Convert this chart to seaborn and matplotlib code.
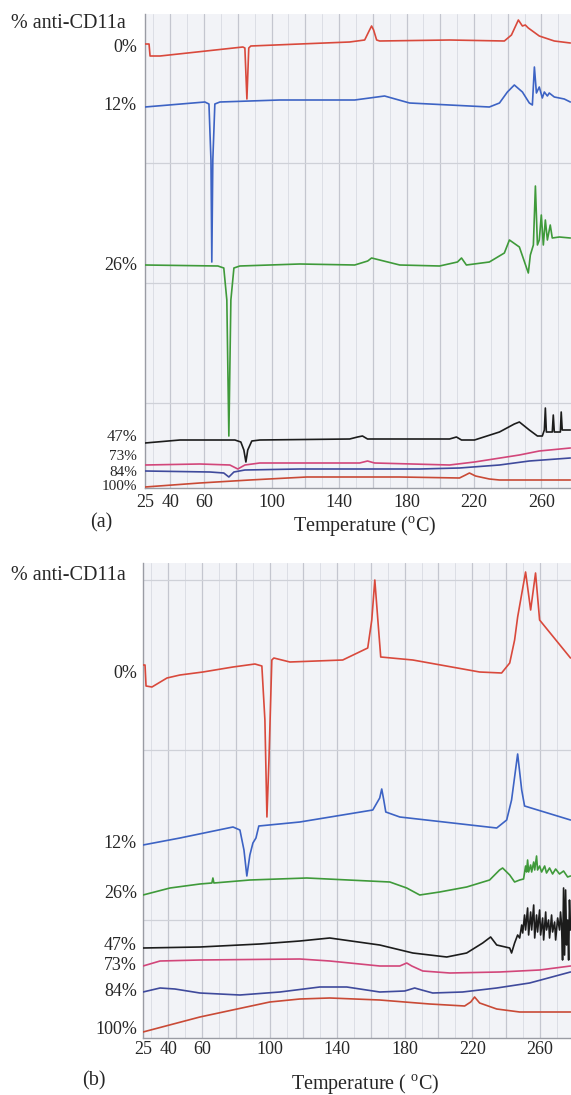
import numpy as np
import pandas as pd
import matplotlib
matplotlib.use("Agg")
import matplotlib.pyplot as plt
import matplotlib.transforms as mtransforms
import seaborn as sns

# ---------------- DATA (temperature in degC, heat-flow signal in arbitrary offset units) ----------------
# Panel (a)
a0_T = [25, 27.4, 28, 33.9, 83, 84.2, 85.4, 86.5, 87.7, 116.7, 146.3, 155.2, 158.1, 159.3, 160.5, 162.3, 164.1,
        205.5, 238, 242.2, 246.3, 248.7, 250.4, 252.2, 258.7, 267.6, 277.1]
a0_v = [444, 444, 432, 432, 441, 440, 389, 440, 442, 444, 446, 448, 458, 462, 458, 448, 447,
        448, 447, 453, 468, 462, 463, 460, 452, 447, 445]

a12_T = [25, 60.5, 62.9, 64.1, 64.6, 65.2, 66.4, 69.4, 104.9, 149.3, 167.0, 181.8, 217.3, 229.1, 235.1, 239.8,
         243.9, 248.7, 252.8, 254.6, 255.8, 257.0, 258.7, 260.5, 261.7, 263.5, 264.6, 267.6, 270.6, 273.5, 277.1]
a12_v = [381, 386, 384, 328, 226, 328, 384, 386, 388, 388, 392, 385, 382, 381, 385, 396,
         403, 396, 385, 383, 421, 395, 401, 390, 396, 392, 395, 391, 390, 389, 386]

a26_T = [25, 68.2, 71.7, 73.5, 74.7, 75.9, 77.7, 81.2, 116.7, 149.3, 157.0, 159.3, 164.1, 176.0, 199.6, 210.2,
         212.6, 215.5, 229.1, 238.0, 241.0, 246.9, 252.2, 253.4, 255.2, 256.4, 257.6, 258.7, 259.9, 261.1,
         262.3, 263.5, 265.2, 266.4, 270.6, 277.1]
a26_v = [223, 222, 220, 188, 52, 188, 220, 222, 224, 223, 227, 230, 228, 223, 222, 226,
         230, 223, 226, 235, 248, 241, 215, 233, 243, 302, 243, 248, 273, 243,
         268, 248, 263, 250, 251, 250]

a47_T = [25, 45.7, 78.3, 81.8, 83.6, 84.8, 85.9, 88.3, 93.0, 146.3, 151.0, 153.9, 156.9, 205.5, 209.6, 212.6,
         220.3, 235.1, 243.9, 246.9, 252.8, 257.6, 260.5, 261.7, 262.3, 262.9, 266.4, 267.0, 267.6, 271.2,
         271.7, 272.3, 277.1]
a47_v = [45, 48, 48, 46, 38, 26, 38, 47, 48, 49, 51, 52, 49, 49, 51, 48,
         48, 56, 64, 66, 58, 52, 52, 58, 80, 56, 56, 73, 56, 56,
         76, 58, 58]

a73_T = [25, 57.5, 75.3, 80.0, 84.2, 93.0, 152.2, 156.9, 161.1, 205.5, 220.3, 246.9, 258.7, 277.1]
a73_v = [23, 24, 23, 19, 23, 25, 25, 27, 25, 23, 26, 33, 37, 40]

a84_T = [25, 63.5, 71.7, 74.7, 77.7, 84.2, 116.7, 187.7, 211.4, 235.1, 252.8, 277.1]
a84_v = [17, 16, 15, 11, 16, 18, 19, 19, 20, 23, 27, 30]

a100_T = [25, 57.5, 87.1, 120.9, 175.9, 211.4, 215.0, 217.3, 220.9, 229.1, 235.1, 277.1]
a100_v = [1, 5, 8, 11, 11, 10, 13, 15, 12, 9, 8, 8]

# Panel (b)
b0_T = [25, 26.2, 26.8, 30.3, 39.2, 46.9, 60.5, 78.3, 91.3, 95.4, 97.2, 98.4, 99.6, 101.3, 102.5, 112.0,
        143.3, 158.1, 160.5, 162.3, 164.1, 165.8, 184.8, 224.4, 237.4, 242.2, 245.1, 246.9, 251.6, 254.6,
        257.5, 259.9, 278.2]
b0_v = [373, 373, 352, 351, 360, 363, 366, 371, 374, 372, 318, 221, 278, 378, 380, 376,
        378, 390, 418, 458, 418, 381, 378, 366, 365, 375, 398, 421, 466, 428,
        465, 418, 380]

b12_T = [25, 46.9, 78.3, 82.4, 84.8, 86.5, 88.3, 90.1, 91.9, 93.6, 117.9, 161.1, 165.2, 166.4, 167.6, 168.8,
         177.1, 234.5, 240.4, 243.3, 246.9, 249.3, 251.0, 278.2]
b12_v = [193, 200, 211, 208, 188, 162, 183, 195, 200, 212, 216, 228, 240, 249, 238, 226,
         221, 210, 218, 238, 284, 248, 232, 218]

b26_T = [25, 41.0, 58.7, 65.8, 66.4, 67.0, 88.3, 122.0, 171.2, 181.2, 188.9, 200.7, 216.7, 230.3, 236.2, 238.0,
         242.2, 245.1, 248.1, 250.4, 251.6, 252.2, 252.8, 253.4, 254.6, 255.2, 256.4, 257.0, 258.1, 258.7,
         259.9, 261.1, 262.9, 264.0, 265.8, 267.6, 269.4, 271.7, 274.1, 276.5, 278.2]
b26_v = [143, 150, 154, 155, 160, 155, 158, 160, 156, 150, 143, 146, 151, 158, 168, 170,
         163, 156, 158, 159, 172, 166, 178, 166, 173, 166, 176, 168, 182, 168,
         172, 166, 172, 165, 170, 164, 169, 164, 167, 161, 162]

b47_T = [25, 58.7, 94.2, 117.9, 135.6, 165.2, 184.8, 204.9, 216.7, 226.2, 230.9, 234.5, 242.2, 243.3, 245.1,
         246.9, 248.1, 249.3, 249.9, 251.0, 251.6, 252.8, 253.4, 254.6, 255.2, 256.4, 257.0, 258.1, 258.7,
         259.9, 260.5, 261.7, 262.3, 263.5, 264.0, 265.2, 265.8, 267.0, 267.6, 268.8, 269.4, 270.6, 271.7,
         272.3, 272.9, 273.5, 274.1, 274.7, 275.3, 275.9, 276.5, 277.1, 277.6, 278.2]
b47_v = [90, 91, 94, 97, 100, 93, 85, 81, 85, 95, 101, 93, 90, 85, 95,
         103, 100, 113, 105, 123, 108, 130, 103, 126, 108, 133, 100, 123, 106,
         128, 103, 120, 98, 126, 108, 118, 100, 123, 106, 116, 98, 120, 108,
         126, 113, 78, 150, 83, 148, 93, 118, 78, 138, 108]

b73_T = [25, 35.1, 58.7, 117.9, 135.6, 165.2, 177.1, 181.2, 184.2, 190.7, 206.7, 236.2, 259.9, 278.2]
b73_v = [72, 77, 78, 79, 77, 72, 72, 75, 72, 67, 65, 66, 68, 72]

b84_T = [25, 35.1, 43.9, 58.7, 82.4, 106.1, 129.7, 145.7, 165.2, 180.0, 185.9, 190.1, 196.6, 214.3, 234.5,
         254.0, 278.2]
b84_v = [46, 50, 49, 45, 43, 46, 51, 51, 46, 47, 50, 48, 45, 46, 50, 55, 66]

b100_T = [25, 58.7, 100.1, 117.9, 135.6, 165.2, 194.8, 215.5, 219.1, 221.4, 224.4, 234.5, 248.1, 278.2]
b100_v = [6, 21, 36, 39, 40, 38, 34, 32, 36, 41, 35, 29, 26, 26]

series_names = ["0%", "12%", "26%", "47%", "73%", "84%", "100%"]
panel_a = [(a0_T, a0_v), (a12_T, a12_v), (a26_T, a26_v), (a47_T, a47_v), (a73_T, a73_v), (a84_T, a84_v), (a100_T, a100_v)]
panel_b = [(b0_T, b0_v), (b12_T, b12_v), (b26_T, b26_v), (b47_T, b47_v), (b73_T, b73_v), (b84_T, b84_v), (b100_T, b100_v)]
label_y_a = [441, 382, 223, 51, 31, 16, 1]
label_y_b = [365, 195, 144, 93, 73, 46, 9]
label_fs_a = [13, 13, 13, 12, 11, 11, 11]
label_fs_b = [13, 13, 13, 13, 13, 13, 13]
tick_vals = [25, 40, 60, 100, 140, 180, 220, 260]
hgrid_a = [85, 205, 325]
hgrid_b = [118, 288, 458]

colors = ["#d9493c", "#3d63c4", "#3f9a3a", "#1c1c1c", "#d2467a", "#3f4a9c", "#c94a36"]

# ---------------- STYLE ----------------
sns.set_theme(style="white")
plt.rcParams["font.family"] = ["Liberation Serif", "DejaVu Serif"]
plt.rcParams["mathtext.fontset"] = "custom"
plt.rcParams["mathtext.rm"] = "Liberation Serif"

W, H = 571, 1095
fig = plt.figure(figsize=(W / 100, H / 100), dpi=100)
axA = fig.add_axes([145 / W, (H - 488) / H, (W - 145) / W, (488 - 14) / H])
axB = fig.add_axes([143 / W, (H - 1038) / H, (W - 143) / W, (1038 - 563) / H])


def draw(ax, data, label_ys, label_fs, hgrid, ylim, xmax, pad, lab_off):
    ax.set_facecolor("#f2f3f7")
    for xv in np.arange(30, 280, 10):
        major = (xv % 20 == 0)
        ax.axvline(xv, color="#c4c6cf" if major else "#dcdee5", lw=0.9 if major else 0.7, zorder=0)
    for yv in hgrid:
        ax.axhline(yv, color="#cfd1d8", lw=0.9, zorder=0)
    for (T, v), c in zip(data, colors):
        df = pd.DataFrame({"T": T, "v": v})
        sns.lineplot(data=df, x="T", y="v", ax=ax, color=c, lw=1.2, sort=False, estimator=None, zorder=3)
    ax.set_xlim(25, xmax)
    ax.set_ylim(*ylim)
    ax.set_xticks(tick_vals)
    ax.set_xticklabels([str(t) for t in tick_vals], fontsize=13)
    ax.tick_params(axis="x", length=0, pad=pad)
    ax.set_yticks([])
    ax.set_xlabel("")
    ax.set_ylabel("")
    for s in ["top", "right"]:
        ax.spines[s].set_visible(False)
    for s in ["left", "bottom"]:
        ax.spines[s].set_color("#9a9ca4")
        ax.spines[s].set_linewidth(1.0)
    trans = mtransforms.blended_transform_factory(ax.transAxes, ax.transData)
    for name, yv, fs in zip(series_names, label_ys, label_fs):
        ax.annotate(name, xy=(0, yv), xycoords=trans, xytext=(-lab_off, 0), textcoords="offset pixels",
                    ha="right", va="center", fontsize=fs)


draw(axA, panel_a, label_y_a, label_fs_a, hgrid_a, (0, 474), 277.5, 4, 8)
draw(axB, panel_b, label_y_b, label_fs_b, hgrid_b, (0, 475), 278.5, 2, 6)


def ftext(x, y, s, **kw):
    fig.text(x / W, 1 - y / H, s, **kw)


ftext(11, 23, "% anti-CD11a", ha="left", va="center", fontsize=14.5)
ftext(11, 575, "% anti-CD11a", ha="left", va="center", fontsize=14.5)
ftext(101, 523, "(a)", ha="center", va="center", fontsize=14.5)
ftext(94, 1081, "(b)", ha="center", va="center", fontsize=14.5)
ftext(365, 526, r"Temperature ($^{\mathrm{o}}$C)", ha="center", va="center", fontsize=14.5)
ftext(365, 1084, r"Temperature ( $^{\mathrm{o}}$C)", ha="center", va="center", fontsize=14.5)

fig.savefig("out.png", dpi=100, facecolor="white")
